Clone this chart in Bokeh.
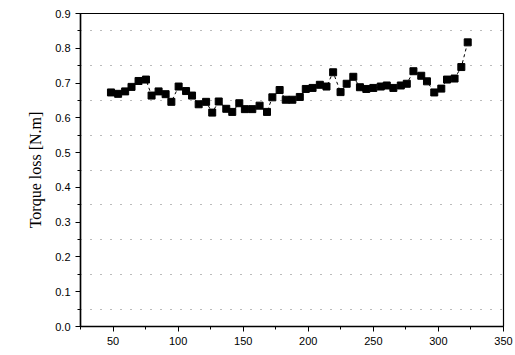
from bokeh.plotting import figure
from bokeh.models import FixedTicker, Range1d, PrintfTickFormatter
from bokeh.embed import file_html
from bokeh.resources import INLINE

speed = [48.4, 53.9, 59.3, 64.2, 69.6, 75.3, 79.6, 85.0, 90.4, 94.8, 100.4, 106.1,
         110.7, 115.8, 121.5, 126.2, 131.2, 137.0, 141.6, 147.0, 151.3, 157.0, 162.6,
         168.3, 172.4, 178.0, 182.7, 187.8, 193.5, 198.1, 203.3, 208.9, 214.0, 219.1,
         224.8, 229.5, 234.6, 239.7, 244.6, 250.0, 255.7, 260.3, 265.4, 271.1, 275.7,
         280.8, 286.8, 291.2, 296.8, 302.2, 306.6, 312.4, 317.6, 322.5]
torque_loss = [0.673, 0.669, 0.676, 0.689, 0.706, 0.710, 0.664, 0.676, 0.668, 0.646, 0.690,
               0.677, 0.664, 0.639, 0.646, 0.615, 0.647, 0.626, 0.617, 0.642, 0.625, 0.625,
               0.635, 0.617, 0.659, 0.680, 0.652, 0.652, 0.660, 0.683, 0.686, 0.695, 0.690,
               0.731, 0.674, 0.698, 0.718, 0.688, 0.683, 0.686, 0.690, 0.693, 0.686, 0.693,
               0.698, 0.734, 0.721, 0.705, 0.673, 0.684, 0.710, 0.713, 0.746, 0.817]

x_ticks = [50, 100, 150, 200, 250, 300, 350]
x_minor = [25, 75, 125, 175, 225, 275, 325]
y_ticks = [0.0, 0.1, 0.2, 0.3, 0.4, 0.5, 0.6, 0.7, 0.8, 0.9]
y_minor = [0.05, 0.15, 0.25, 0.35, 0.45, 0.55, 0.65, 0.75, 0.85]
y_label = "Torque loss [N.m]"

p = figure(width=515, height=355, output_backend="svg", toolbar_location=None,
           x_range=Range1d(25, 350), y_range=Range1d(0, 0.9),
           min_border_left=80, min_border_right=12, min_border_top=13, min_border_bottom=29)
p.background_fill_color = "white"
p.border_fill_color = "white"
p.outline_line_color = "black"
p.outline_line_width = 1.2

p.line(speed, torque_loss, line_color="black", line_width=1, line_dash="3 3")
p.scatter(speed, torque_loss, marker="square", size=7, fill_color="black", line_color="black")

p.xaxis.ticker = FixedTicker(ticks=x_ticks, minor_ticks=x_minor)
p.yaxis.ticker = FixedTicker(ticks=y_ticks, minor_ticks=y_minor)
p.yaxis.formatter = PrintfTickFormatter(format="%.1f")
p.yaxis.axis_label = y_label
p.yaxis.axis_label_text_font = "Liberation Serif"
p.yaxis.axis_label_text_font_style = "normal"
p.yaxis.axis_label_text_font_size = "16px"
p.yaxis.axis_label_text_color = "black"
p.yaxis.axis_label_standoff = 8
for ax in (p.xaxis, p.yaxis):
    ax.axis_line_color = "black"
    ax.axis_line_width = 1.5
    ax.major_tick_line_color = "black"
    ax.minor_tick_line_color = "black"
    ax.major_tick_out = 5
    ax.major_tick_in = 0
    ax.minor_tick_out = 3
    ax.minor_tick_in = 0
    ax.major_label_text_font = "Liberation Sans"
    ax.major_label_text_font_size = "11px"
    ax.major_label_text_color = "black"

p.xgrid.grid_line_color = None
p.ygrid.ticker = FixedTicker(ticks=y_minor)
p.ygrid.grid_line_color = "#777777"
p.ygrid.grid_line_dash = "1 9"
p.ygrid.grid_line_width = 1

open("out.html", "w").write(file_html(p, INLINE))
